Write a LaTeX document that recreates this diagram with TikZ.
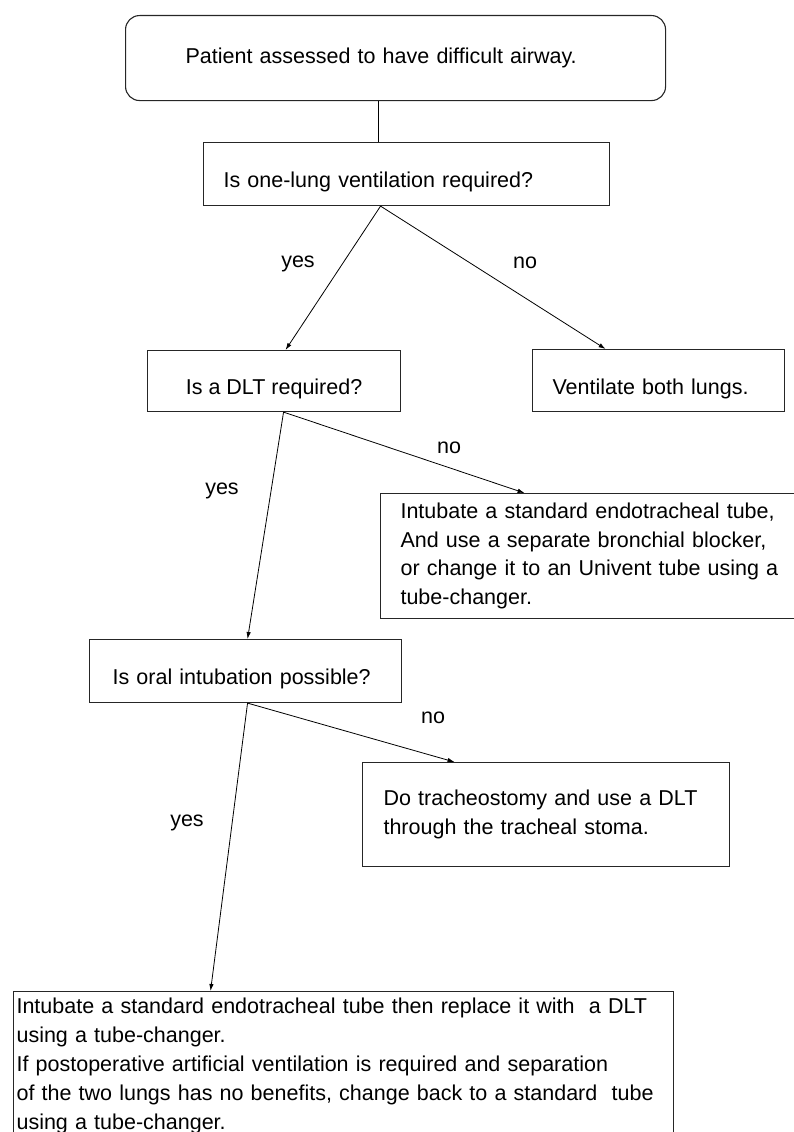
\documentclass[tikz,border=0pt]{standalone}
\usepackage{fontspec}
\setmainfont{Liberation Sans}
\usetikzlibrary{arrows.meta,calc}

\tikzset{
	box/.style={draw=black!85, line width=1.1pt, rectangle, anchor=north west, inner sep=0pt, align=left, font=\fontsize{21.5}{28.7}\selectfont},
	oneline/.style={text height=28pt, text depth=1pt},
	flow/.style={line width=0.8pt, -{Latex[length=7pt,width=4.5pt]}},
	lbl/.style={font=\fontsize{21.5}{28.7}\selectfont}
}

\begin{document}
\begin{tikzpicture}[x=1pt, y=-1pt]
		\useasboundingbox (0,0) rectangle (794,1132);
		\coordinate (A) at (125,15);
		\coordinate (B) at (203,142);
		\coordinate (C) at (147,350);
		\coordinate (D) at (532,349);
		\coordinate (E) at (380,493);
		\coordinate (F) at (89,639);
		\coordinate (G) at (362,762);
		\coordinate (H) at (13,991);
		\node[box, rounded corners=14pt, minimum width=540pt, minimum height=85pt, text width=420pt, inner xsep=60pt] (S) at (A) {Patient assessed to have difficult airway.};
		\node[box, oneline, minimum width=406pt, minimum height=63pt, text width=366pt, inner xsep=20pt] (Q1) at (B) {Is one-lung ventilation required?};
		\node[box, oneline, minimum width=253pt, minimum height=61pt] (Q2) at (C) {Is a DLT required?};
		\node[box, oneline, minimum width=252pt, minimum height=62pt, text width=212pt, inner xsep=20pt] (V) at (D) {Ventilate both lungs.};
		\node[box, minimum width=430pt, minimum height=125pt, text width=390pt, inner xsep=20pt] (U) at (E) {Intubate a standard endotracheal tube,\\And use a separate bronchial blocker,\\or change it to an Univent tube using a\\tube-changer.};
		\node[box, oneline, minimum width=312pt, minimum height=63pt, text width=266pt, inner xsep=23pt] (Q3) at (F) {Is oral intubation possible?};
		\node[box, minimum width=367pt, minimum height=104pt, text width=325pt, inner xsep=21pt] (T) at (G) {Do tracheostomy and use a DLT\\through the tracheal stoma.};
		\node[box, minimum width=660pt, text width=654pt, inner xsep=3pt, inner ysep=6.5pt, font=\fontsize{21.5}{29}\selectfont] (R) at (H) {Intubate a standard endotracheal tube then replace it with\ \ a DLT\\using a tube-changer.\\If postoperative artificial ventilation is required and separation\\of the two lungs has no benefits, change back to a standard\ \ tube\\using a tube-changer.};
		\draw[line width=0.8pt] ([xshift=-17pt]S.south) -- ([xshift=-28pt]Q1.north);
		\draw[flow] ([xshift=-26pt]Q1.south) -- ([xshift=11.5pt]Q2.north);
		\draw[flow] ([xshift=-26pt]Q1.south) -- ([xshift=-53pt]V.north);
		\draw[flow] ([xshift=9.5pt]Q2.south) -- ([xshift=2pt]Q3.north);
		\draw[flow] ([xshift=9.5pt]Q2.south) -- ([xshift=-71pt]U.north);
		\draw[flow] ([xshift=2pt]Q3.south) -- ([xshift=-133pt]R.north);
		\draw[flow] ([xshift=2pt]Q3.south) -- ([xshift=-91.5pt]T.north);
		\node[lbl] (Y1) at (298,264) {yes};
		\node[lbl] (N1) at (525,263) {no};
		\node[lbl] (Y2) at (222,491) {yes};
		\node[lbl] (N2) at (449,448) {no};
		\node[lbl] (Y3) at (187,823) {yes};
		\node[lbl] (N3) at (433,718) {no};
	\end{tikzpicture}
\end{document}
